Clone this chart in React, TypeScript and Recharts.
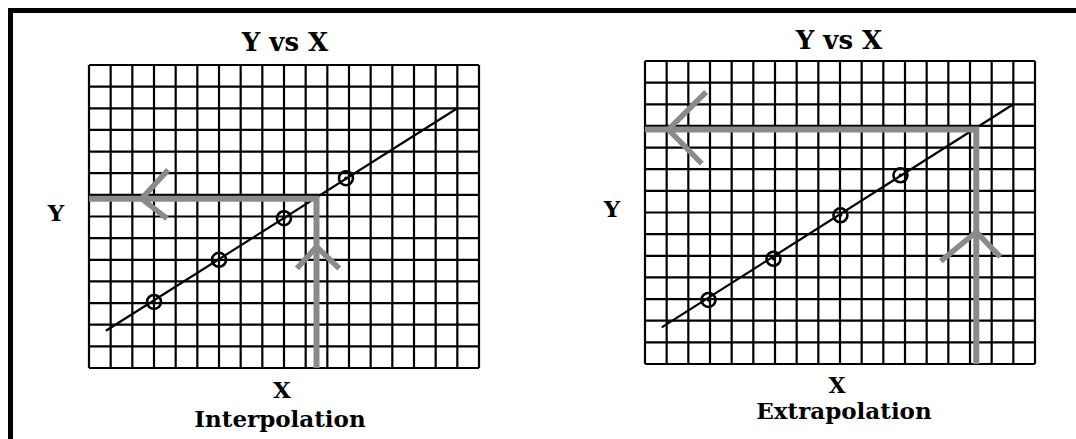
import React from 'react';
import { ScatterChart, Scatter, XAxis, YAxis, ReferenceLine } from 'recharts';

// grid ticks (one line per unit)
const gridX = [0, 1, 2, 3, 4, 5, 6, 7, 8, 9, 10, 11, 12, 13, 14, 15, 16, 17, 18];
const gridY = [0, 1, 2, 3, 4, 5, 6, 7, 8, 9, 10, 11, 12, 13, 14];

// left panel: interpolation
const interpFit = [{ x: 0.78, y: 1.72 }, { x: 17, y: 12 }];
const interpPoints = [
  { x: 3, y: 3.05 },
  { x: 6, y: 5.0 },
  { x: 9, y: 6.92 },
  { x: 11.86, y: 8.77 },
];
const interpPath = [{ x: 0, y: 7.82 }, { x: 10.5, y: 7.82 }, { x: 10.5, y: 0 }];
const interpArrowH = [{ x: 3.65, y: 9.15 }, { x: 2.43, y: 7.82 }, { x: 3.6, y: 6.9 }];
const interpArrowV = [{ x: 9.6, y: 4.6 }, { x: 10.5, y: 5.6 }, { x: 11.55, y: 4.6 }];

// right panel: extrapolation
const extrapFit = [{ x: 0.77, y: 1.69 }, { x: 17, y: 12 }];
const extrapPoints = [
  { x: 2.93, y: 2.96 },
  { x: 5.93, y: 4.86 },
  { x: 9.02, y: 6.87 },
  { x: 11.79, y: 8.72 },
];
const extrapPath = [{ x: 0, y: 10.83 }, { x: 15.29, y: 10.83 }, { x: 15.29, y: 0 }];
const extrapArrowH = [{ x: 2.82, y: 12.57 }, { x: 1.08, y: 10.83 }, { x: 2.62, y: 9.26 }];
const extrapArrowV = [{ x: 13.65, y: 4.75 }, { x: 15.29, y: 6.1 }, { x: 16.4, y: 4.95 }];

const GRAY = '#8a8a8a';
const PAD = 10;

const NoShape = () => <g />;
const Ring = (p: any) => (
  <g>
    <circle cx={p.cx} cy={p.cy} r={7} fill="none" stroke="#000" strokeWidth={2.6} />
    <circle cx={p.cx} cy={p.cy} r={1.8} fill="#000" />
  </g>
);

type Pt = { x: number; y: number };
type PanelProps = {
  left: number;
  top: number;
  fit: Pt[];
  points: Pt[];
  path: Pt[];
  arrowH: Pt[];
  arrowV: Pt[];
};

const Panel = ({ left, top, fit, points, path, arrowH, arrowV }: PanelProps) => (
  <div style={{ position: 'absolute', left: left - PAD, top: top - PAD }}>
    <ScatterChart
      width={390 + 2 * PAD}
      height={303 + 2 * PAD}
      margin={{ top: PAD, right: PAD, bottom: PAD, left: PAD }}
    >
      <XAxis type="number" dataKey="x" domain={[0, 18]} ticks={gridX} hide allowDataOverflow />
      <YAxis type="number" dataKey="y" domain={[0, 14]} ticks={gridY} hide allowDataOverflow />
      {gridX.map((v) => (
        <ReferenceLine key={'gx' + v} x={v} stroke="#000" strokeWidth={2.2} ifOverflow="visible" />
      ))}
      {gridY.map((v) => (
        <ReferenceLine key={'gy' + v} y={v} stroke="#000" strokeWidth={2.2} ifOverflow="visible" />
      ))}
      <Scatter
        data={fit}
        line={{ stroke: '#000', strokeWidth: 2.2 }}
        shape={NoShape}
        isAnimationActive={false}
      />
      <Scatter data={points} shape={Ring} isAnimationActive={false} />
      <Scatter
        data={path}
        line={{ stroke: GRAY, strokeWidth: 6, strokeLinejoin: 'miter' }}
        shape={NoShape}
        isAnimationActive={false}
      />
      <Scatter
        data={arrowH}
        line={{ stroke: GRAY, strokeWidth: 5.5, strokeLinejoin: 'miter' }}
        shape={NoShape}
        isAnimationActive={false}
      />
      <Scatter
        data={arrowV}
        line={{ stroke: GRAY, strokeWidth: 5.5, strokeLinejoin: 'miter' }}
        shape={NoShape}
        isAnimationActive={false}
      />
    </ScatterChart>
  </div>
);

const textStyle: React.CSSProperties = {
  fontFamily: '"DejaVu Serif", serif',
  fontWeight: 'bold',
  fill: '#000',
};

export default function App() {
  return (
    <div
      style={{
        position: 'absolute',
        left: 0,
        top: 0,
        width: 1076,
        height: 439,
        overflow: 'hidden',
        background: '#fff',
      }}
    >
      <div
        style={{
          position: 'absolute',
          left: 8,
          top: 8,
          width: 1068,
          height: 431,
          boxSizing: 'border-box',
          borderTop: '5px solid #000',
          borderLeft: '5px solid #000',
        }}
      />
      <Panel
        left={89}
        top={65}
        fit={interpFit}
        points={interpPoints}
        path={interpPath}
        arrowH={interpArrowH}
        arrowV={interpArrowV}
      />
      <Panel
        left={645}
        top={61}
        fit={extrapFit}
        points={extrapPoints}
        path={extrapPath}
        arrowH={extrapArrowH}
        arrowV={extrapArrowV}
      />
      <svg width={1076} height={439} style={{ position: 'absolute', left: 0, top: 0, pointerEvents: 'none' }}>
        <text x={285} y={51} textAnchor="middle" fontSize={26} style={textStyle}>Y vs X</text>
        <text x={56} y={221} textAnchor="middle" fontSize={23} style={textStyle}>Y</text>
        <text x={282} y={398} textAnchor="middle" fontSize={23} style={textStyle}>X</text>
        <text x={280} y={427} textAnchor="middle" fontSize={23} style={textStyle}>Interpolation</text>
        <text x={839} y={49} textAnchor="middle" fontSize={26} style={textStyle}>Y vs X</text>
        <text x={612} y={217} textAnchor="middle" fontSize={23} style={textStyle}>Y</text>
        <text x={837} y={393} textAnchor="middle" fontSize={22} style={textStyle}>X</text>
        <text x={844} y={419} textAnchor="middle" fontSize={23} style={textStyle}>Extrapolation</text>
      </svg>
    </div>
  );
}
